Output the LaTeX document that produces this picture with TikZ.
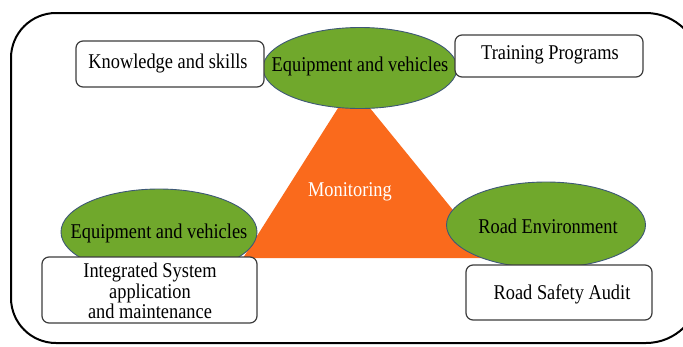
\documentclass[tikz,border=0pt]{standalone}
\usepackage{fontspec}
\setmainfont{Liberation Serif}
\usetikzlibrary{shapes.geometric}
\definecolor{grn}{RGB}{112,168,44}
\definecolor{edgeblue}{RGB}{62,88,118}
\definecolor{orng}{RGB}{250,106,28}
\definecolor{boxedge}{RGB}{60,60,60}
\newcommand{\sqz}[1]{\scalebox{0.875}[1]{#1}}
\tikzset{
  ov/.style={ellipse, draw=edgeblue, fill=grn, line width=0.9pt, inner sep=0pt},
  bx/.style={draw=boxedge, fill=white, rounded corners=7pt, line width=1.2pt, inner sep=0pt},
  lbl/.style={font=\fontsize{21}{18.5}\selectfont, text=black},
  frame/.style={draw=black, line width=2pt}
}
\begin{document}
\begin{tikzpicture}[x=1pt,y=-1pt]
\useasboundingbox (0,0) rectangle (683,346);
\clip (0,0) rectangle (683,346);
\draw[frame, rounded corners=45pt] (11,178) |- (400,13)
  [rounded corners=54pt] -| (700,178) |- (400,343)
  [rounded corners=45pt] -| cycle;
% triangle
\coordinate (ta) at (352,86);
\coordinate (tl) at (243,258);
\coordinate (tr) at (492,258);
\fill[orng] (ta) -- (tl) -- (tr) -- cycle;
\node[lbl, text=white] (mon) at (350,192) {\sqz{Monitoring}};
% ellipses
\node[ov, minimum width=194pt, minimum height=81pt] (etop) at (360,68) {};
\node[lbl] (etopt) at (360,66) {\sqz{Equipment and vehicles}};
\node[ov, minimum width=196pt, minimum height=86pt] (eleft) at (159,232) {};
\node[lbl] (eleftt) at (159,233) {\sqz{Equipment and vehicles}};
\node[ov, minimum width=199pt, minimum height=86pt] (eright) at (546,225) {};
\node[lbl] (erightt) at (548,226) {\sqz{Road Environment}};
% boxes
\node[bx, minimum width=188pt, minimum height=46pt] (kn) at (170,64) {};
\node[lbl] (knt) at (168,63) {\sqz{Knowledge and skills}};
\node[bx, minimum width=188pt, minimum height=42pt] (tp) at (549,56) {};
\node[lbl] (tpt) at (550,55) {\sqz{Training Programs}};
\node[bx, minimum width=215pt, minimum height=66pt] (isb) at (149.5,290) {};
\node[lbl] (isbt) at (150,293.5) {\sqz{\begin{tabular}{@{}c@{}}Integrated System\\application\\and maintenance\end{tabular}}};
\node[bx, minimum width=186pt, minimum height=55pt] (rsa) at (559,292.5) {};
\node[lbl] (rsat) at (562,294) {\sqz{Road Safety Audit}};
\end{tikzpicture}
\end{document}
